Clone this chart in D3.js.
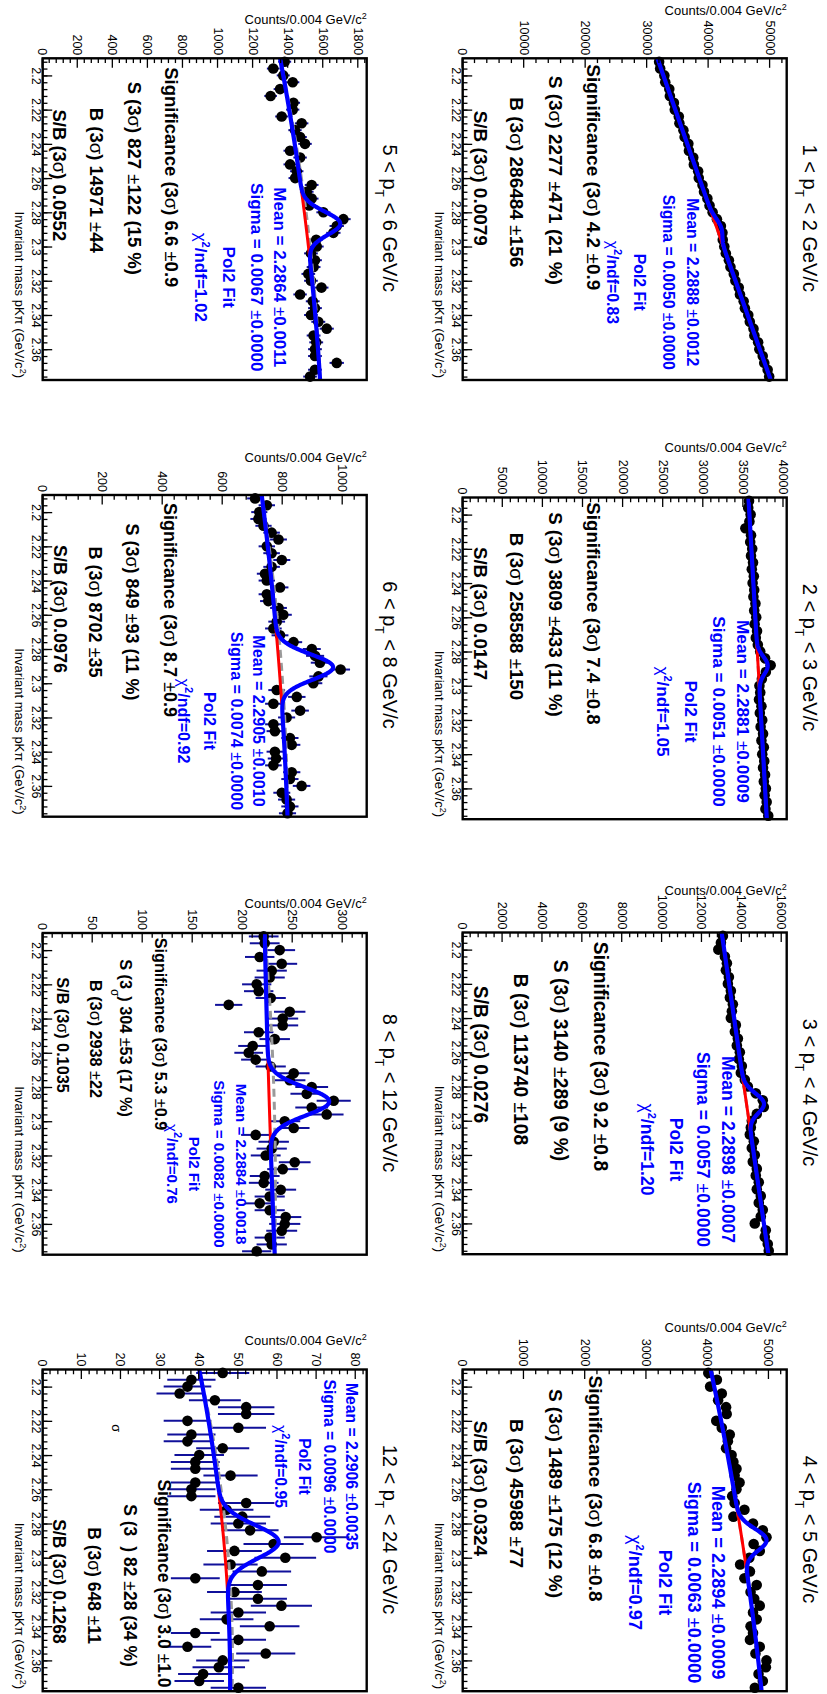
<!DOCTYPE html>
<html>
<head>
<meta charset="utf-8">
<script src="https://cdn.jsdelivr.net/npm/d3@7/dist/d3.min.js"></script>
<style>
html,body{margin:0;padding:0;background:#fff;}
text{font-family:"Liberation Sans",Arial,Helvetica,sans-serif;}
</style>
</head>
<body>
<svg id="chart" width="827" height="1694"></svg>
<script>
// ---------------- data ----------------
const massCenters = [2.192,2.196,2.200,2.204,2.208,2.212,2.216,2.220,2.224,2.228,2.232,2.236,2.240,2.244,2.248,2.252,2.256,2.260,2.264,2.268,2.272,2.276,2.280,2.284,2.288,2.292,2.296,2.300,2.304,2.308,2.312,2.316,2.320,2.324,2.328,2.332,2.336,2.340,2.344,2.348,2.352,2.356,2.360,2.364,2.368,2.372,2.376];
const massRange = [2.19, 2.378];
const massTicks = [2.2,2.22,2.24,2.26,2.28,2.3,2.32,2.34,2.36];
const massTickLabels = ["2.2","2.22","2.24","2.26","2.28","2.3","2.32","2.34","2.36"];
const ptLow  = [1,2,3,4,5,6,8,12];
const ptHigh = [2,3,4,5,6,8,12,24];

const counts12 = [31950,32120,32800,32950,33600,33700,34350,34500,35150,35250,35900,36100,36700,36800,37500,37600,38300,38400,39000,39250,39800,40150,40650,41350,42000,42250,42300,42550,42800,43300,43550,44100,44350,44900,45100,45700,45900,46450,46700,47300,47450,48050,48250,48800,49050,49600,49850];
const counts23 = [35700,35600,35900,35750,35250,35950,35850,36100,35950,36200,36050,36300,36150,36350,36250,36500,36350,36600,36400,36700,36550,36800,37100,37700,38400,37800,37300,37000,37100,36950,37250,37050,37350,37150,37450,37250,37550,37350,37600,37450,37700,37550,37800,37650,37900,37750,38100];
const counts34 = [13050,12950,12820,13150,13250,13200,13350,13300,13450,13400,13550,13500,13450,13700,13650,13800,13750,13900,13850,14000,13950,14150,14300,14700,15050,15100,14750,14500,14450,14400,14600,14500,14650,14550,14750,14700,14850,14750,14950,14850,15050,14950,14650,15200,15150,15300,15350];
const counts45 = [4010,4150,4040,4230,4170,4300,4310,4140,4230,4360,4330,4300,4390,4420,4470,4440,4520,4470,4400,4440,4600,4420,4740,4900,4960,4750,4850,4680,4530,4690,4600,4800,4700,4760,4850,4740,4800,4700,4740,4690,4850,4780,4960,4950,4830,4900,4770];
const counts56 = [1380,1315,1372,1426,1354,1300,1430,1426,1363,1477,1439,1468,1496,1411,1468,1411,1449,1440,1534,1506,1534,1520,1601,1715,1677,1658,1560,1563,1530,1553,1545,1515,1530,1590,1468,1540,1553,1530,1572,1620,1545,1560,1553,1553,1677,1553,1525];
const counts68 = [708,747,722,719,736,763,786,747,763,797,763,741,747,791,747,752,786,802,780,769,791,836,897,908,924,993,919,902,780,847,769,858,813,769,774,824,830,774,778,769,830,824,863,797,813,824,816];
const counts812 = [221,222,237,217,239,229,227,214,216,228,186,247,240,240,216,232,210,206,213,228,251,247,269,264,291,269,284,242,251,213,231,229,223,252,240,222,221,238,227,217,227,243,242,239,227,229,214];
const counts1224 = [46,38,37,35,44,52,52,37,50,38,37,46,40,39,39,48,39,38,38,52,47,51,50,53,70,59,49,62,48,56,39,55,49,55,61,50,47,58,39,50,37,57,46,45,41,40,50];

const yMaxes = [52700, 40400, 16250, 5290, 1848, 1080, 324, 82.8];
const yTicks12 = [0,10000,20000,30000,40000,50000];
const yTicks23 = [0,5000,10000,15000,20000,25000,30000,35000,40000];
const yTicks34 = [0,2000,4000,6000,8000,10000,12000,14000,16000];
const yTicks45 = [0,1000,2000,3000,4000,5000];
const yTicks56 = [0,200,400,600,800,1000,1200,1400,1600,1800];
const yTicks68 = [0,200,400,600,800,1000];
const yTicks812 = [0,50,100,150,200,250,300];
const yTicks1224 = [0,10,20,30,40,50,60,70,80];

// fit: background read at range start, at the mean, at range end; gaussian amplitude
const bgStart = [31670, 35630, 12990, 4048, 1354, 730, 222, 40];
const bgMid   = [41300, 36830, 14230, 4560, 1500, 788, 226.5, 46.3];
const bgEnd   = [50110, 37920, 15330, 4880, 1582, 816, 232, 47.9];
const gaussAmp = [740, 1200, 880, 400, 197, 180, 60, 14];
// grey dashed (side-band) background: offsets from the fit background at start / mean / end
const greyOffStart = [0, 0, 0, 0, 0, 0, 0, 0];
const greyOffMid   = [0, 0, 0, 0, 10, 8, 5, 0.8];
const greyOffEnd   = [0, 0, 0, 0, 0, 0, 0, 0.5];
const meanVal  = [2.2888, 2.2881, 2.2898, 2.2894, 2.2864, 2.2905, 2.2884, 2.2906];
const sigmaVal = [0.0050, 0.0051, 0.0057, 0.0063, 0.0067, 0.0074, 0.0082, 0.0096];

// texts
const meanStr  = ["2.2888","2.2881","2.2898","2.2894","2.2864","2.2905","2.2884","2.2906"];
const meanErr  = ["0.0012","0.0009","0.0007","0.0009","0.0011","0.0010","0.0018","0.0035"];
const sigmaStr = ["0.0050","0.0051","0.0057","0.0063","0.0067","0.0074","0.0082","0.0096"];
const sigmaErr = ["0.0000","0.0000","0.0000","0.0000","0.0000","0.0000","0.0000","0.0000"];
const chi2Str  = ["0.83","1.05","1.20","0.97","1.02","0.92","0.76","0.95"];
const signifStr = ["4.2","7.4","9.2","6.8","6.6","8.7","5.3","3.0"];
const signifErr = ["0.9","0.8","0.8","0.8","0.9","0.9","0.9","1.0"];
const sStr   = ["2277","3809","3140","1489","827","849","304","82"];
const sErr   = ["471","433","289","175","122","93","53","28"];
const sPct   = ["21","11","9","12","15","11","17","34"];
const bStr   = ["286484","258588","113740","45988","14971","8702","2938","648"];
const bErr   = ["156","150","108","77","44","35","22","11"];
const sbStr  = ["0.0079","0.0147","0.0276","0.0324","0.0552","0.0976","0.1035","0.1268"];

// ---------------- layout ----------------
const frameRight = [786.7,786.7,786.7,786.7,366.7,366.7,366.7,366.7];
const frameTop   = [58.3,497.5,932.5,1369.5,58.3,495,933,1369.5];
const W = 321.7, H = 324;
const blueSize  = [15.8, 17.2, 17.6, 18.2, 17, 16.1, 15.1, 15.7];
const blackSize = [19, 18.7, 19.3, 19, 18.5, 18, 16.2, 17.5];
const blueU = [224,214,217,213,219,226,231,97];
const blueV = [[94,118,147,174],[44,68,96,124],[59,84,111,140],[68,92,121,151],[87,110,138,166],[108,130,157,183],[125,147,172,194],[15,37,62,86]];
const blackU = [[119,122,124,120],[116,117,119,116],[124,128,127,122],[119,124,124,119],[119,120,122,117],[115,117,117,114],[101,105,106,102],[214,216,216,212]];
const blackV = [[193,231,270,306],[193,231,270,306],[186,226,266,306],[191,231,270,306],[195,232,270,307],[196,234,271,306],[206,241,271,304],[203,237,273,308]];
const yTitleOff = [48,50,42,41.6,39,37.4,29.3,28.6];

const allCounts = [counts12,counts23,counts34,counts45,counts56,counts68,counts812,counts1224];
const allYTicks = [yTicks12,yTicks23,yTicks34,yTicks45,yTicks56,yTicks68,yTicks812,yTicks1224];

const svg = d3.select("#chart");
svg.append("rect").attr("width",827).attr("height",1694).attr("fill","#fff");

function richText(parent, u, v, parts, o) {
  const t = parent.append("text").attr("x", u).attr("y", v)
    .attr("dy", o.dy === undefined ? "0.35em" : o.dy)
    .attr("text-anchor", o.anchor || "middle")
    .attr("font-size", o.size).attr("font-weight", o.weight || "normal")
    .attr("fill", o.fill || "#000");
  parts.forEach(p => {
    const s = t.append("tspan").text(p.t);
    if (p.w) s.attr("font-weight", p.w);
    if (p.dy) s.attr("dy", p.dy);
    if (p.fs) s.attr("font-size", p.fs);
    if (p.dx) s.attr("dx", p.dx);
  });
  return t;
}

const errColor = "#10109a";

allCounts.forEach((counts, k) => {
  const g = svg.append("g").attr("transform", `translate(${frameRight[k]},${frameTop[k]}) rotate(90)`);
  const x = d3.scaleLinear().domain(massRange).range([0, W]);
  const y = d3.scaleLinear().domain([0, yMaxes[k]]).range([H, 0]);
  const pts = massCenters.map((m, i) => ({m, c: counts[i]}));

  // error bars + markers
  const gp = g.append("g");
  gp.selectAll("line.ey").data(pts).join("line").attr("class","ey")
    .attr("x1", d => x(d.m)).attr("x2", d => x(d.m))
    .attr("y1", d => y(d.c - Math.sqrt(d.c))).attr("y2", d => y(d.c + Math.sqrt(d.c)))
    .attr("stroke", errColor).attr("stroke-width", 2);
  gp.selectAll("line.ex").data(pts).join("line").attr("class","ex")
    .attr("x1", d => x(d.m - 0.002)).attr("x2", d => x(d.m + 0.002))
    .attr("y1", d => y(d.c)).attr("y2", d => y(d.c))
    .attr("stroke", errColor).attr("stroke-width", 2);
  gp.selectAll("circle").data(pts).join("circle")
    .attr("cx", d => x(d.m)).attr("cy", d => y(d.c)).attr("r", 5.3).attr("fill", "#000");

  // fit functions
  const m0 = massRange[0], m1 = massRange[1], mu = meanVal[k], sg = sigmaVal[k];
  const quad = (a, b, c) => m => a*((m-mu)*(m-m1))/((m0-mu)*(m0-m1))
                + b*((m-m0)*(m-m1))/((mu-m0)*(mu-m1))
                + c*((m-m0)*(m-mu))/((m1-m0)*(m1-mu));
  const bg = quad(bgStart[k], bgMid[k], bgEnd[k]);
  const grey = quad(bgStart[k] + greyOffStart[k], bgMid[k] + greyOffMid[k], bgEnd[k] + greyOffEnd[k]);
  const full = m => bg(m) + gaussAmp[k]*Math.exp(-0.5*((m-mu)/sg)**2);
  const grid = d3.range(m0, m1 + 1e-9, 0.0005);
  const line = f => d3.line().x(m => x(m)).y(m => y(f(m)));
  g.append("path").attr("d", line(grey)(grid))
    .attr("fill","none").attr("stroke","#9a9a9a").attr("stroke-width",3).attr("stroke-dasharray","8,5");
  const redGrid = d3.range(mu - 3*sg, mu + 3*sg + 1e-9, 0.0005);
  g.append("path").attr("d", line(bg)(redGrid))
    .attr("fill","none").attr("stroke","#ff0000").attr("stroke-width",3);
  g.append("path").attr("d", line(full)(grid))
    .attr("fill","none").attr("stroke","#0000ff").attr("stroke-width",4.2).attr("stroke-linejoin","round");

  // frame
  g.append("rect").attr("x",0).attr("y",0).attr("width",W).attr("height",H)
    .attr("fill","none").attr("stroke","#000").attr("stroke-width",2.4);

  // axes
  const yt = allYTicks[k];
  const step = yt[1] - yt[0];
  const yMinor = d3.range(0, yMaxes[k], step/5).filter(v => yt.indexOf(v) < 0);
  const ya = g.append("g").call(d3.axisLeft(y).tickValues(yt).tickSizeInner(-9.5).tickSizeOuter(0).tickPadding(3).tickFormat(d3.format("d")));
  const yb = g.append("g").call(d3.axisLeft(y).tickValues(yMinor).tickSizeInner(-4.75).tickSizeOuter(0).tickFormat(""));
  const xMinor = d3.range(0, 48).map(i => 2.192 + 0.004*i).filter(v => v > m0 && v < m1);
  const xa = g.append("g").attr("transform",`translate(0,${H})`)
    .call(d3.axisBottom(x).tickValues(massTicks).tickSizeInner(-9.5).tickSizeOuter(0).tickPadding(2).tickFormat((d,i) => massTickLabels[i]));
  const xb = g.append("g").attr("transform",`translate(0,${H})`)
    .call(d3.axisBottom(x).tickValues(xMinor).tickSizeInner(-4.75).tickSizeOuter(0).tickFormat(""));
  [ya,yb,xa,xb].forEach(a => {
    a.select(".domain").remove();
    a.attr("color","#000");
    a.selectAll("line").attr("stroke-width",1.3);
    a.selectAll("text").attr("font-size",12.5).attr("fill","#000");
  });

  // axis titles
  const yTitle = g.append("g").attr("transform",`translate(${-yTitleOff[k]},0) rotate(-90)`);
  richText(yTitle, 0, 0, [{t:"Counts/0.004 GeV/c"},{t:"2", dy:-5, fs:9}], {size:13, anchor:"end"});
  richText(g, W - 2, H + 28, [{t:"Invariant mass pK\u03C0 (GeV/c"},{t:"2", dy:-5, fs:9},{t:")", dy:5}], {size:13, anchor:"end", dy:"0"});

  // pad title
  richText(g, 160, -16, [{t:ptLow[k] + " < p"},{t:"T", dy:8, fs:12},{t:" < " + ptHigh[k] + " GeV/c", dy:-8}], {size:20, dy:"0"});

  // fit results (blue)
  const bu = blueU[k], bv = blueV[k];
  const blue = {size:blueSize[k], weight:"bold", fill:"#0000ff"};
  richText(g, bu, bv[0], [{t:"Mean = " + meanStr[k] + " "},{t:"\u00B1", w:"normal"},{t:meanErr[k]}], blue);
  richText(g, bu, bv[1], [{t:"Sigma = " + sigmaStr[k] + " "},{t:"\u00B1", w:"normal"},{t:sigmaErr[k]}], blue);
  richText(g, bu, bv[2], [{t:"Pol2 Fit"}], blue);
  richText(g, bu, bv[3], [{t:"\u03C7", w:"normal"},{t:"2", fs:11, dy:-7},{t:"/ndf=" + chi2Str[k], dy:7}], blue);

  // significance block (black)
  const ku = blackU[k], kv = blackV[k];
  const blk = {size:blackSize[k], weight:"bold", fill:"#000"};
  richText(g, ku[0], kv[0], [{t:"Significance (3"},{t:"\u03C3", w:"normal"},{t:") " + signifStr[k] + " "},{t:"\u00B1", w:"normal"},{t:signifErr[k]}], blk);
  if (k === 6) {
    richText(g, ku[1], kv[1], [{t:"S (3"},{t:"\u03C3", w:"normal", fs:12, dy:9},{t:") " + sStr[k] + " ", dy:-9},{t:"\u00B1", w:"normal"},{t:sErr[k] + " (" + sPct[k] + " %)"}], blk);
  } else if (k === 7) {
    richText(g, ku[1], kv[1], [{t:"S (3"},{t:") " + sStr[k] + " ", dx:10},{t:"\u00B1", w:"normal"},{t:sErr[k] + " (" + sPct[k] + " %)"}], blk);
    richText(g, 58.7, 249.7, [{t:"\u03C3"}], {size:13});
  } else {
    richText(g, ku[1], kv[1], [{t:"S (3"},{t:"\u03C3", w:"normal"},{t:") " + sStr[k] + " "},{t:"\u00B1", w:"normal"},{t:sErr[k] + " (" + sPct[k] + " %)"}], blk);
  }
  richText(g, ku[2], kv[2], [{t:"B (3"},{t:"\u03C3", w:"normal"},{t:") " + bStr[k] + " "},{t:"\u00B1", w:"normal"},{t:bErr[k]}], blk);
  richText(g, ku[3], kv[3], [{t:"S/B (3"},{t:"\u03C3", w:"normal"},{t:") " + sbStr[k]}], blk);
});
</script>
</body>
</html>
